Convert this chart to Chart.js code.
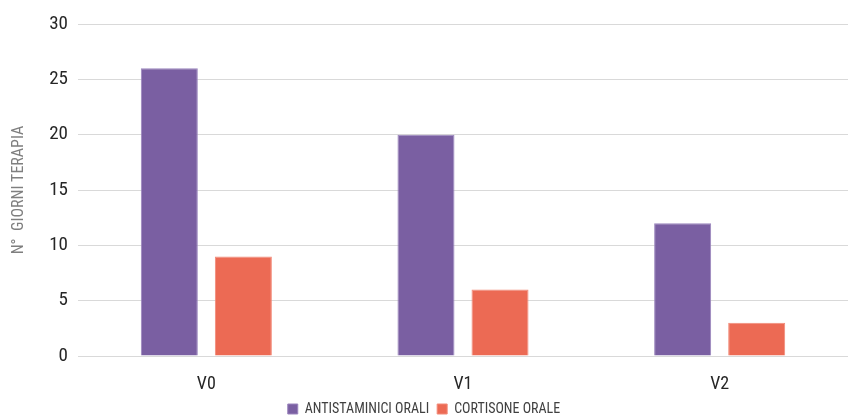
<!DOCTYPE html>
<html>
<head>
<meta charset="utf-8">
<script src="https://cdn.jsdelivr.net/npm/chart.js@4/dist/chart.umd.min.js"></script>
<style>
  html, body { margin: 0; padding: 0; background: #fff; }
  #wrap { width: 848px; height: 417px; }
</style>
</head>
<body>
<div id="wrap"><canvas id="chart"></canvas></div>
<script>
const categories = ['V0', 'V1', 'V2'];
const antistaminici = [26, 20, 12];
const cortisone = [9, 6, 3];
const seriesNames = ['ANTISTAMINICI ORALI', 'CORTISONE ORALE'];
const yTitle = 'N°  GIORNI TERAPIA';

const fontFamily = "'Liberation Sans Narrow', 'Roboto Condensed', Roboto, sans-serif";

new Chart(document.getElementById('chart'), {
    type: 'bar',
    data: {
        labels: categories,
        datasets: [{
            label: seriesNames[0],
            data: antistaminici,
            backgroundColor: '#7a5fa2',
            borderColor: '#9a85bd',
            borderWidth: 1,
            categoryPercentage: 0.577,
            barPercentage: 0.77
        }, {
            label: seriesNames[1],
            data: cortisone,
            backgroundColor: '#ec6a54',
            borderColor: '#f28a78',
            borderWidth: 1,
            categoryPercentage: 0.577,
            barPercentage: 0.77
        }]
    },
    options: {
        responsive: true,
        maintainAspectRatio: false,
        animation: false,
        // small negative bottom padding pulls the legend closer to the edge
        layout: { padding: { top: 24, right: 0, left: 0, bottom: -9 } },
        plugins: {
            tooltip: { enabled: false },
            legend: {
                position: 'bottom',
                labels: {
                    boxWidth: 10,
                    boxHeight: 10,
                    padding: 8,
                    color: '#404040',
                    font: { family: fontFamily, size: 14 }
                }
            }
        },
        scales: {
            x: {
                grid: { display: false },
                border: { display: false },
                ticks: {
                    color: '#262626',
                    padding: 10,
                    autoSkip: false,
                    font: { family: fontFamily, size: 18 }
                },
                afterFit: function(scale) { scale.height = 38; }
            },
            y: {
                min: 0,
                max: 30,
                ticks: {
                    stepSize: 5,
                    color: '#262626',
                    padding: 10,
                    font: { family: fontFamily, size: 19 }
                },
                grid: { color: '#d9d9d9', lineWidth: 1, drawTicks: false },
                border: { display: false },
                title: {
                    display: true,
                    text: yTitle,
                    color: '#7f7f7f',
                    padding: { top: 9, bottom: 10 },
                    font: { family: fontFamily, size: 16 }
                },
                afterFit: function(scale) { scale.width = 78; }
            }
        }
    }
});
</script>
</body>
</html>
